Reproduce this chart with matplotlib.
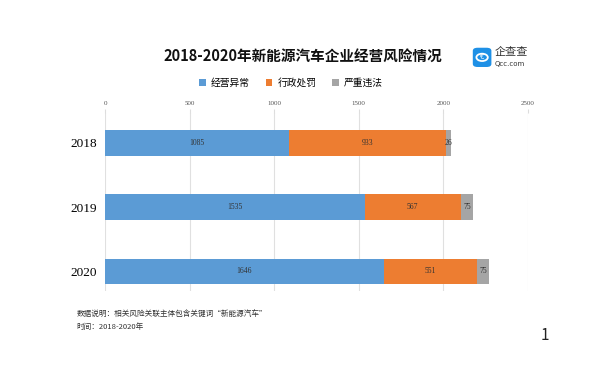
import matplotlib.pyplot as plt
from matplotlib.patches import FancyBboxPatch, Circle

plt.rcParams['font.family'] = ['Noto Sans CJK SC', 'DejaVu Sans']

years = ["2018", "2019", "2020"]
series_names = ["经营异常", "行政处罚", "严重违法"]
operating = [1085, 1535, 1646]
penalty = [933, 567, 551]
illegal = [26, 75, 75]
x_ticks = [0, 500, 1000, 1500, 2000, 2500]
colors = ["#5B9BD5", "#ED7D31", "#A5A5A5"]

fig = plt.figure(figsize=(6, 3.85), dpi=100)
ax = fig.add_axes([0.175, 0.245, 0.705, 0.462])

positions = list(range(len(years)))
left = [0] * len(years)
for name, vals, col in zip(series_names, [operating, penalty, illegal], colors):
    bars = ax.barh(positions, vals, left=left, height=0.4, color=col, label=name, zorder=3)
    for b, v in zip(bars, vals):
        ax.text(b.get_x() + b.get_width() / 2, b.get_y() + b.get_height() / 2, str(v),
                ha="center", va="center", fontsize=5.5, color="#333333",
                family=["Liberation Serif"], zorder=4)
    left = [l + v for l, v in zip(left, vals)]

ax.set_xlim(0, 2500)
ax.set_ylim(2.3, -0.47)
ax.set_yticks(positions)
ax.set_yticklabels(years, fontsize=9.5, family=["Liberation Serif"])
ax.set_xticks(x_ticks)
ax.set_xticklabels([str(t) for t in x_ticks], fontsize=5, color="#555555",
                   family=["Liberation Serif"])
ax.xaxis.tick_top()
ax.tick_params(axis="x", length=3, color="#dddddd", pad=2)
ax.tick_params(axis="y", length=0, pad=6)
ax.grid(axis="x", color="#e0e0e0", linewidth=0.8, zorder=0)
for s in ax.spines.values():
    s.set_visible(False)

fig.text(0.505, 0.852, "2018-2020年新能源汽车企业经营风险情况", ha="center", va="center",
         fontsize=10.5, fontweight="bold", color="#111111")

handles, labels = ax.get_legend_handles_labels()
fig.legend(handles, labels, loc="center", bbox_to_anchor=(0.485, 0.784), ncol=3,
           frameon=False, fontsize=7, handlelength=0.7, handleheight=0.7,
           columnspacing=1.6, handletextpad=0.5)

# logo
logo = FancyBboxPatch((0.790, 0.828), 0.027, 0.046, boxstyle="round,pad=0.002,rounding_size=0.008",
                      transform=fig.transFigure, facecolor="#1E90E6", edgecolor="none")
fig.patches.append(logo)
ring = Circle((0.8035, 0.851), 0.0095, transform=fig.transFigure, facecolor="none",
              edgecolor="white", linewidth=1.3)
fig.patches.append(ring)
fig.text(0.8035, 0.851, "€", ha="center", va="center", fontsize=5, color="white",
         family=["DejaVu Sans"])
fig.text(0.824, 0.864, "企查查", ha="left", va="center", fontsize=8, color="#333333")
fig.text(0.824, 0.834, "Qcc.com", ha="left", va="center", fontsize=5, color="#333333",
         family=["DejaVu Sans"])

fig.text(0.128, 0.182, "数据说明：相关风险关联主体包含关键词“新能源汽车”", ha="left", va="center",
         fontsize=5.5, color="#333333")
fig.text(0.128, 0.150, "时间：2018-2020年", ha="left", va="center", fontsize=5.5, color="#333333")
fig.text(0.908, 0.128, "1", ha="center", va="center", fontsize=11, color="#222222")

fig.savefig("out.png", dpi=100)
